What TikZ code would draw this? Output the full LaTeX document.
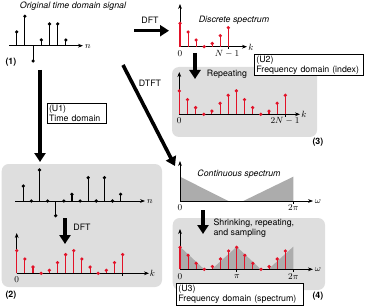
\documentclass[tikz,border=0pt]{standalone}
\usepackage{fontspec}
\setmainfont{TeX Gyre Heros}
\usetikzlibrary{arrows.meta}
\definecolor{boxgray}{RGB}{222,222,222}
\definecolor{specgray}{RGB}{172,172,172}
\definecolor{stemred}{RGB}{226,18,40}
\begin{document}
\begin{tikzpicture}[x=1pt,y=-1pt,
  font=\fontsize{8.8}{10}\selectfont,
  axis/.style={line width=0.75pt,-{Stealth[length=5pt,width=3.8pt]}},
  rstem/.style={line width=1.1pt,stemred},
  bstem/.style={line width=1.1pt,black},
  tick/.style={line width=0.75pt,black},
  bigarrow/.style={line width=3.6pt,-{Triangle[length=9pt,width=11pt]}},
  panel/.style={fill=boxgray,rounded corners=7pt},
  ubox/.style={draw,line width=0.7pt,fill=white,align=left,inner xsep=2pt,inner ysep=1.5pt,anchor=north west},
  ital/.style={font=\fontsize{8.8}{10}\selectfont\itshape},
  numlbl/.style={font=\fontsize{8.8}{10}\selectfont\bfseries,anchor=west},
  mlbl/.style={inner sep=0pt}]
\useasboundingbox (0,0) rectangle (366,307);

% panels
\fill[panel] (172,67) rectangle (317,137);
\fill[panel] (1.7,164) rectangle (162,287);
\fill[panel] (172.7,218) rectangle (325,290);

% ---------- (1) original signal ----------
\node[ital] (title1) at (73,6) {Original time domain signal};
\coordinate (a1s) at (9,45.7);
\coordinate (a1e) at (83,45.7);
\draw[axis] (a1s) -- (a1e);
\node[mlbl] (n1) at (88,46.5) {$n$};
\foreach \i/\h in {0/13.7,1/29.4,2/-15.3,3/5.7,4/21.7,5/21.7,6/5.7}{
  \draw[bstem] (16.7+8.2*\i,45.7) -- (16.7+8.2*\i,45.7-\h);
  \fill (16.7+8.2*\i,45.7-\h) circle (1.8pt);
}
\node[numlbl] (l1) at (2,62) {(1)};

% DFT arrow
\coordinate (d1s) at (134,30.7);
\coordinate (d1e) at (169,30.7);
\draw[bigarrow] (d1s) -- (d1e);
\node (dftlbl) at (150,20) {DFT};

% ---------- discrete spectrum ----------
\node[ital] (title2) at (234,20) {Discrete spectrum};
\coordinate (s1o) at (180,46.7);
\draw[axis] (s1o) -- (247,46.7);
\draw[axis] (s1o) -- (180,4);
\node[mlbl] (k1) at (251,47) {$k$};
\draw[tick] (228.3,46.7) -- (228.3,49.5);
\foreach \i/\h in {0/23.4,1/14.7,2/6.7,3/0,4/3.2,5/11,6/19}{
  \draw[rstem] (180+8.05*\i,46.7) -- (180+8.05*\i,46.7-\h);
  \fill[stemred] (180+8.05*\i,46.7-\h) circle (1.8pt);
}
\node[mlbl] (z1) at (180,53.5) {$0$};
\node[mlbl] (nm1) at (227,53.5) {$N-1$};

% repeating arrow
\coordinate (r1s) at (195,53);
\coordinate (r1e) at (195,79);
\draw[bigarrow] (r1s) -- (r1e);
\node (replbl) at (227,74) {Repeating};

% U2 box
\node[ubox,text width=105pt] (u2) at (254,54) {(U2)\\Frequency domain (index)};

% ---------- (3) repeated spectrum ----------
\coordinate (s2o) at (179.3,114.3);
\draw[axis] (s2o) -- (300,114.3);
\draw[axis] (s2o) -- (179.3,72);
\node[mlbl] (k2) at (304,114.5) {$k$};
\draw[tick] (285.3,114.3) -- (285.3,117);
\foreach \i/\h in {0/23.4,1/14.7,2/6.7,3/0,4/3.2,5/11,6/19,7/23.4,8/14.7,9/6.7,10/0,11/3.2,12/11,13/19}{
  \draw[rstem] (179.3+8.15*\i,114.3) -- (179.3+8.15*\i,114.3-\h);
  \fill[stemred] (179.3+8.15*\i,114.3-\h) circle (1.8pt);
}
\node[mlbl] (z2) at (179.3,121) {$0$};
\node[mlbl] (nm2) at (285,121) {$2N-1$};
\node[numlbl] (l3) at (309,142) {(3)};

% ---------- U1 ----------
\coordinate (u1s) at (40,70);
\coordinate (u1e) at (40,162);
\draw[bigarrow] (u1s) -- (u1e);
\node[ubox,text width=55.6pt] (u1) at (46.7,103) {(U1)\\Time domain};

% ---------- DTFT ----------
\coordinate (dts) at (123,65);
\coordinate (dte) at (175,166);
\draw[bigarrow] (dts) -- (dte);
\node (dtftlbl) at (150,83.5) {DTFT};

% ---------- (2) ----------
\coordinate (a2s) at (15,201);
\draw[axis] (a2s) -- (145,201);
\node[mlbl] (n2) at (150,201.5) {$n$};
\foreach \i/\h in {0/15,1/0,2/31,3/0,4/-14.7,5/0,6/6.7,7/0,8/23.3,9/0,10/23.3,11/0,12/6.7}{
  \draw[bstem] (23.3+8.11*\i,201) -- (23.3+8.11*\i,201-\h);
  \fill (23.3+8.11*\i,201-\h) circle (1.8pt);
}
\coordinate (d2s) at (65,218);
\coordinate (d2e) at (65,244);
\draw[bigarrow] (d2s) -- (d2e);
\node (dft2lbl) at (82,227) {DFT};

\coordinate (s3o) at (16.7,273.3);
\draw[axis] (s3o) -- (149,273.3);
\draw[axis] (s3o) -- (16.7,233);
\node[mlbl] (k3) at (152.5,273.5) {$k$};
\draw[tick] (122.7,273.3) -- (122.7,276);
\foreach \i/\h in {0/22.7,1/14.3,2/6.3,3/0,4/3,5/10.7,6/18.7,7/22.7,8/14.3,9/6.3,10/0,11/3,12/10.7,13/18.7}{
  \draw[rstem] (16.7+8.15*\i,273.3) -- (16.7+8.15*\i,273.3-\h);
  \fill[stemred] (16.7+8.15*\i,273.3-\h) circle (1.8pt);
}
\node[mlbl] (z3) at (16.7,280) {$0$};
\node[numlbl] (l2) at (2,295) {(2)};

% ---------- continuous spectrum ----------
\node[ital] (title3) at (239,174) {Continuous spectrum};
\fill[specgray] (180,201) -- (180,176.7) -- (228.3,201) -- (243.3,201) -- (293.3,176.7) -- (293.3,201) -- cycle;
\coordinate (s4o) at (180,201);
\draw[axis] (s4o) -- (313,201);
\draw[axis] (s4o) -- (180,161);
\node[mlbl] (w1) at (318,201.5) {$\omega$};
\draw[tick] (293.3,201) -- (293.3,203.5);
\node[mlbl] (z4) at (180,207.5) {$0$};
\node[mlbl] (tp1) at (293.3,207.5) {$2\pi$};

\coordinate (d3s) at (203,210);
\coordinate (d3e) at (203,234);
\draw[bigarrow] (d3s) -- (d3e);
\node[anchor=west,align=left,font=\fontsize{8.8}{10.6}\selectfont] (shr) at (210,228) {Shrinking, repeating,\\and sampling};

% ---------- (4) ----------
\fill[specgray] (180,269.3) -- (180,246.7) -- (204.2,269.3) -- (211.7,269.3) -- (236.7,246.7) -- (260.8,269.3) -- (268.3,269.3) -- (293.3,246.7) -- (293.3,269.3) -- cycle;
\coordinate (s5o) at (180,269.3);
\draw[axis] (s5o) -- (313,269.3);
\draw[axis] (s5o) -- (180,229);
\node[mlbl] (w2) at (318,269.8) {$\omega$};
\draw[tick] (236.7,269.3) -- (236.7,272);
\draw[tick] (293.3,269.3) -- (293.3,272);
\foreach \i/\h in {0/22,1/14,2/6,3/0,4/2.7,5/10.3,6/18.3,7/22,8/14,9/6,10/0,11/2.7,12/10.3,13/18.3}{
  \draw[rstem] (180+8.1*\i,269.3) -- (180+8.1*\i,269.3-\h);
  \fill[stemred] (180+8.1*\i,269.3-\h) circle (1.8pt);
}
\node[mlbl] (z5) at (180,276.5) {$0$};
\node[mlbl] (pi5) at (237,276.5) {$\pi$};
\node[mlbl] (tp2) at (293.3,276.5) {$2\pi$};
\node[ubox,text width=122.6pt] (u3) at (176,283.3) {(U3)\\Frequency domain (spectrum)};
\node[numlbl] (l4) at (309,296) {(4)};
\end{tikzpicture}
\end{document}
